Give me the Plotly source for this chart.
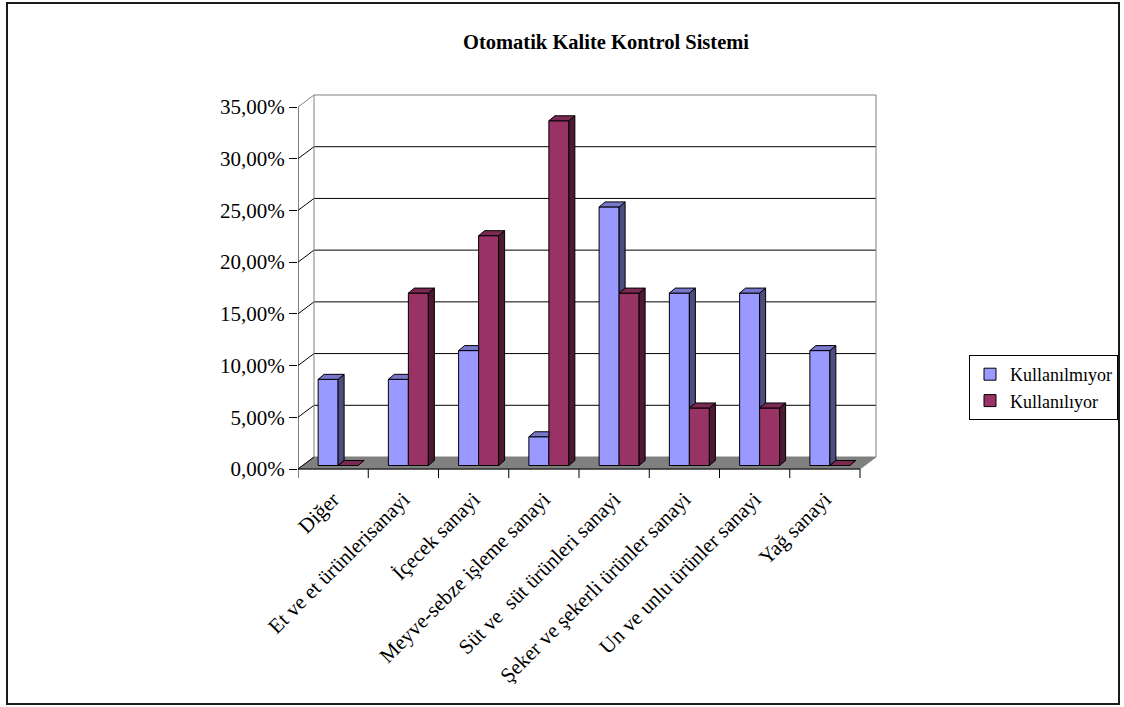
import plotly.graph_objects as go

# ---- data -------------------------------------------------------------
categories = [
    "Diğer",
    "Et ve et ürünlerisanayi",
    "İçecek sanayi",
    "Meyve-sebze işleme sanayi",
    "Süt ve  süt ürünleri sanayi",
    "Şeker ve şekerli ürünler sanayi",
    "Un ve unlu ürünler sanayi",
    "Yağ sanayi",
]
kullanilmiyor = [8.33, 8.33, 11.11, 2.78, 25.00, 16.67, 16.67, 11.11]
kullaniliyor = [0.00, 16.67, 22.22, 33.33, 16.67, 5.56, 5.56, 0.00]
series_names = ["Kullanılmıyor", "Kullanılıyor"]
y_tick_values = [0, 5, 10, 15, 20, 25, 30, 35]
y_tick_labels = ["0,00%", "5,00%", "10,00%", "15,00%", "20,00%", "25,00%", "30,00%", "35,00%"]
title_text = "Otomatik Kalite Kontrol Sistemi"

# ---- geometry (pixels) -------------------------------------------------
FIG_W, FIG_H = 1124, 707
PLOT_L, PLOT_R, PLOT_T, PLOT_B = 298, 880, 88, 482
PX_PER_CAT = 70.25          # horizontal pixels per category slot
PX_PER_PCT = 10.343         # vertical pixels per percentage point
ZERO_PX = 469               # pixel row of the 0 % front edge

WALL_DX_PX, WALL_DY_PX = 16, 12   # depth of the floor / side wall
BAR_DX_PX, BAR_DY_PX = 6, 5       # depth of each bar
BAR_W_PX = 20                     # width of each bar face

FONT = "Liberation Serif"

# pixel -> data helpers
cx = lambda px: px / PX_PER_CAT
cy = lambda px: px / PX_PER_PCT

x_range = [-0.5, -0.5 + cx(PLOT_R - PLOT_L)]
y_range = [-cy(PLOT_B - ZERO_PX), cy(ZERO_PX - PLOT_T)]

wdx, wdy = cx(WALL_DX_PX), cy(WALL_DY_PX)
bdx, bdy = cx(BAR_DX_PX), cy(BAR_DY_PX)
bw = cx(BAR_W_PX)
# bars sit in the middle of the floor depth
shift_x = cx((WALL_DX_PX - BAR_DX_PX) / 2)
base = cy((WALL_DY_PX - BAR_DY_PX) / 2)

n = len(categories)
x_first, x_last = -0.5, n - 0.5
y_top = y_tick_values[-1]

colors = {
    "front": ["#9999FF", "#993366"],
    "side": ["#4D4D80", "#4D1933"],
    "top": ["#7777CC", "#7A2952"],
}

fig = go.Figure()

# ---- front faces as bars ----------------------------------------------
centers = [
    [i + shift_x - bw / 2 for i in range(n)],
    [i + shift_x + bw / 2 for i in range(n)],
]
for s, vals in enumerate([kullanilmiyor, kullaniliyor]):
    fig.add_trace(go.Bar(
        x=centers[s], y=vals, base=[base] * n, width=bw,
        name=series_names[s],
        marker=dict(color=colors["front"][s], line=dict(color="black", width=1)),
        hoverinfo="skip",
    ))


# ---- side and top faces -------------------------------------------------
def top_face(xl, xr, top, clip_right=False):
    if clip_right:
        return [xl, xr, xr, xl + bdx, xl, None], [top, top, top + bdy, top + bdy, top, None]
    return ([xl, xr, xr + bdx, xl + bdx, xl, None],
            [top, top, top + bdy, top + bdy, top, None])


def side_face(xr, lo, hi):
    return ([xr, xr + bdx, xr + bdx, xr, xr, None],
            [lo, lo + bdy, hi + bdy, hi, lo, None])


faces = {k: ([], []) for k in ("side0", "top0", "side1", "top1")}
for i in range(n):
    xl0 = centers[0][i] - bw / 2
    xr0 = centers[0][i] + bw / 2
    xr1 = centers[1][i] + bw / 2
    t0 = base + kullanilmiyor[i]
    t1 = base + kullaniliyor[i]
    # first series: parts hidden by the neighbouring bar are left out
    if t0 > t1:
        px_, py_ = side_face(xr0, t1, t0)
        faces["side0"][0].extend(px_); faces["side0"][1].extend(py_)
    px_, py_ = top_face(xl0, xr0, t0, clip_right=t1 > t0)
    faces["top0"][0].extend(px_); faces["top0"][1].extend(py_)
    # second series: fully visible
    if t1 > base:
        px_, py_ = side_face(xr1, base, t1)
        faces["side1"][0].extend(px_); faces["side1"][1].extend(py_)
    px_, py_ = top_face(xr0, xr1, t1)
    faces["top1"][0].extend(px_); faces["top1"][1].extend(py_)

for key, col in (("side0", colors["side"][0]), ("top0", colors["top"][0]),
                 ("side1", colors["side"][1]), ("top1", colors["top"][1])):
    fig.add_trace(go.Scatter(
        x=faces[key][0], y=faces[key][1], mode="lines", fill="toself",
        fillcolor=col, line=dict(color="black", width=1),
        showlegend=False, hoverinfo="skip",
    ))

# ---- walls, floor, gridlines, axis lines --------------------------------
shapes = []
# floor
shapes.append(dict(
    type="path", xref="x", yref="y", layer="below",
    path=f"M{x_first},0 L{x_last},0 L{x_last + wdx},{wdy} L{x_first + wdx},{wdy} Z",
    fillcolor="#808080", line=dict(color="#808080", width=1),
))
# back wall gridlines and side-wall connectors
for v in y_tick_values[1:]:
    col = "#808080" if v == y_top else "black"
    shapes.append(dict(type="line", xref="x", yref="y", layer="below",
                       x0=x_first + wdx, x1=x_last + wdx, y0=v + wdy, y1=v + wdy,
                       line=dict(color=col, width=1)))
for v in y_tick_values:
    col = "#808080" if v == y_top else "black"
    shapes.append(dict(type="line", xref="x", yref="y", layer="below",
                       x0=x_first, x1=x_first + wdx, y0=v, y1=v + wdy,
                       line=dict(color=col, width=1)))
# back wall left and right edges
for xe in (x_first + wdx, x_last + wdx):
    shapes.append(dict(type="line", xref="x", yref="y", layer="below",
                       x0=xe, x1=xe, y0=wdy, y1=y_top + wdy,
                       line=dict(color="#808080", width=1)))
# front axes
shapes.append(dict(type="line", xref="x", yref="y", layer="above",
                   x0=x_first, x1=x_first, y0=0, y1=y_top,
                   line=dict(color="black", width=1)))
shapes.append(dict(type="line", xref="x", yref="y", layer="above",
                   x0=x_first, x1=x_last, y0=0, y1=0,
                   line=dict(color="black", width=1)))
# category boundary ticks
tick_down = cy(9)
for k in range(n + 1):
    xb = x_first + k
    shapes.append(dict(type="line", xref="x", yref="y", layer="above",
                       x0=xb, x1=xb, y0=0, y1=-tick_down,
                       line=dict(color="black", width=1)))

# outer frame (paper coordinates from pixel positions)
plot_w, plot_h = PLOT_R - PLOT_L, PLOT_B - PLOT_T
px2paper_x = lambda px: (px - PLOT_L) / plot_w
px2paper_y = lambda py: (PLOT_B - py) / plot_h
shapes.append(dict(type="rect", xref="paper", yref="paper", layer="above",
                   x0=px2paper_x(7), x1=px2paper_x(1119),
                   y0=px2paper_y(704), y1=px2paper_y(3),
                   line=dict(color="#1a1a1a", width=2)))

fig.update_layout(
    width=FIG_W, height=FIG_H,
    margin=dict(l=PLOT_L, r=FIG_W - PLOT_R, t=PLOT_T, b=FIG_H - PLOT_B,
                pad=0, autoexpand=False),
    paper_bgcolor="white", plot_bgcolor="rgba(0,0,0,0)",
    barmode="overlay",
    shapes=shapes,
    title=dict(
        text=f"<b>{title_text}</b>",
        font=dict(family=FONT, size=20.5, color="black"),
        xref="container", yref="container",
        x=606 / FIG_W, y=1 - 42 / FIG_H, xanchor="center", yanchor="middle",
    ),
    xaxis=dict(
        range=x_range, tickmode="array", tickvals=list(range(n)), ticktext=categories,
        tickangle=-45, ticks="", showgrid=False, zeroline=False, showline=False,
        tickfont=dict(family=FONT, size=21, color="black"),
        automargin=False,
    ),
    yaxis=dict(
        range=y_range, tickmode="array", tickvals=y_tick_values, ticktext=y_tick_labels,
        ticks="outside", ticklen=8, tickcolor="black", tickwidth=1,
        showgrid=False, zeroline=False, showline=False,
        tickfont=dict(family=FONT, size=21, color="black"),
        automargin=False,
    ),
    legend=dict(
        x=px2paper_x(969), y=px2paper_y(355), xanchor="left", yanchor="top",
        bgcolor="white", bordercolor="black", borderwidth=1,
        font=dict(family=FONT, size=18, color="black"),
        traceorder="normal",
    ),
    showlegend=True,
)

fig.write_html("out.html", config={"displayModeBar": False})
